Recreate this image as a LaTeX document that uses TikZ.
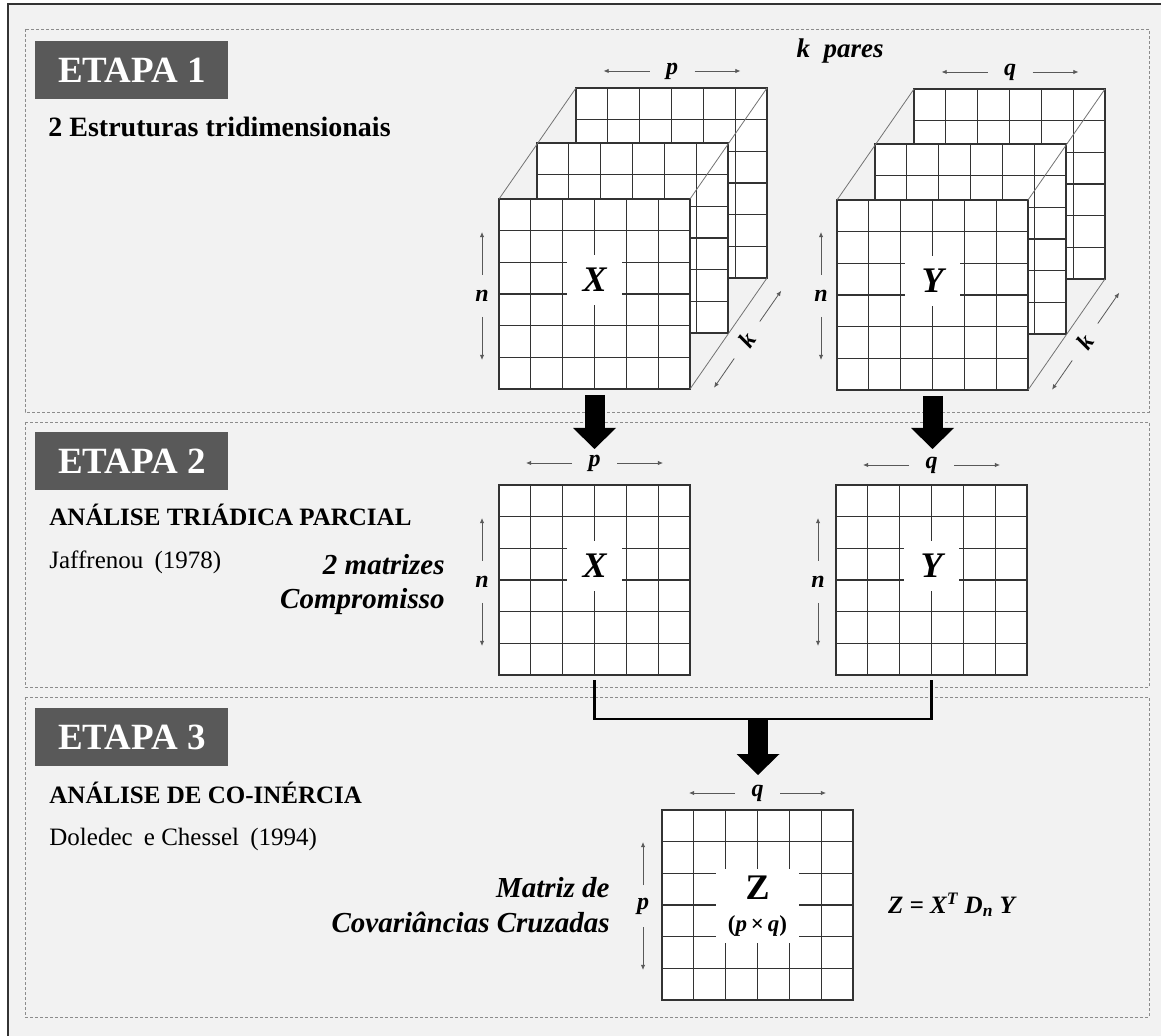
\documentclass[tikz,border=0pt]{standalone}
\usepackage{fontspec}
\setmainfont{Liberation Serif}
\usetikzlibrary{arrows.meta, calc, positioning}

\definecolor{fundo}{HTML}{F2F2F2}
\definecolor{escuro}{HTML}{595959}
\definecolor{linha}{HTML}{333333}

\begin{document}
\begin{tikzpicture}[x=0.5pt, y=-0.5pt,
    caixa/.style={draw=black!45, line width=0.4pt, dash pattern=on 1.5pt off 1pt},
    etapa/.style={fill=escuro, text=white, font=\bfseries\fontsize{18.5}{20}\selectfont,
        minimum width=96.5pt, minimum height=29pt, inner sep=0pt, anchor=north west},
    matriz/.style={draw=linha, fill=white, line width=0.65pt, minimum width=95.5pt,
        minimum height=95pt, inner sep=0pt, outer sep=0pt},
    grade/.style={draw=linha, line width=0.65pt},
    diag/.style={draw=black!55, line width=0.4pt},
    nome/.style={fill=white, inner sep=0pt, minimum width=27.5pt, minimum height=25pt,
        font=\bfseries\itshape\fontsize{18}{18}\selectfont},
    dimen/.style={font=\bfseries\itshape\fontsize{12}{14}\selectfont, inner sep=1pt},
    dim/.style={draw=black!65, line width=0.4pt, -{Latex[length=2.6pt, width=2.2pt]}},
    bloco/.style={line width=10pt, -{Triangle[width=21.5pt, length=10.5pt, line width=0pt]}},
    ligacao/.style={line width=1.2pt},
    titulo/.style={font=\bfseries\fontsize{14}{16}\selectfont, anchor=base west, inner sep=0pt},
    subtit/.style={font=\bfseries\fontsize{12.5}{14}\selectfont, anchor=base west, inner sep=0pt},
    autor/.style={font=\fontsize{12.5}{14}\selectfont, anchor=base west, inner sep=0pt},
    obs/.style={font=\bfseries\itshape\fontsize{14.5}{16}\selectfont, anchor=base east, inner sep=0pt}]

    \useasboundingbox (0,0) rectangle (1161,1036);

    % moldura e fundo
    \fill[fundo] (8,4) rectangle (1161,1036);
    \draw[line width=0.9pt, black!80] (8,1036) -- (8,4) -- (1161,4);

    % caixas tracejadas das etapas
    \draw[caixa] (25,29) rectangle (1149,412);
    \draw[caixa] (25,422) rectangle (1149,687);
    \draw[caixa] (25,697) rectangle (1149,1017);

    \node[etapa] (e1) at (35,41) {ETAPA 1};
    \node[etapa] (e2) at (35,432) {ETAPA 2};
    \node[etapa] (e3) at (35,708) {ETAPA 3};

    % textos da esquerda
    \node[titulo] (t1) at (48,137) {2 Estruturas tridimensionais};
    \node[subtit] (t2) at (49,526) {ANÁLISE TRIÁDICA PARCIAL};
    \node[autor] (a2) at (49,569) {Jaffrenou\hspace{0.45em}(1978)};
    \node[obs] (o2a) at (445,575) {2 matrizes};
    \node[obs] (o2b) at (445,609) {Compromisso};
    \node[subtit] (t3) at (49,803) {ANÁLISE DE CO-INÉRCIA};
    \node[autor] (a3) at (49,845) {Doledec\hspace{0.45em}e Chessel\hspace{0.45em}(1994)};
    \node[obs] (o3a) at (610,897) {Matriz de};
    \node[obs] (o3b) at (610,932) {Covariâncias Cruzadas};
    \node[font=\bfseries\itshape\fontsize{13.5}{15}\selectfont, anchor=base] (kp) at (840,58) {k\ \ pares};

    % matrizes (camadas de tras para a frente)
    \foreach \m/\x/\y in {xc/671.5/183, xb/632.5/238, xa/594.5/294,
                          yc/1009.5/184, yb/970.5/239, ya/932.5/295,
                          x2/594.5/580, y2/931.5/580, z/757.5/905}{
        \node[matriz] (\m) at (\x,\y) {};
        \foreach \i in {1,...,5}{
            \draw[grade] ($(\m.north west)!\i/6!(\m.north east)$) -- ($(\m.south west)!\i/6!(\m.south east)$);
            \draw[grade] ($(\m.north west)!\i/6!(\m.south west)$) -- ($(\m.north east)!\i/6!(\m.south east)$);
        }
    }

    % arestas das estruturas tridimensionais
    \draw[diag] (xa.north west) -- (xc.north west);
    \draw[diag] (xa.north east) -- (xc.north east);
    \draw[diag] (xa.south east) -- (xc.south east);
    \draw[diag] (ya.north west) -- (yc.north west);
    \draw[diag] (ya.north east) -- (yc.north east);
    \draw[diag] (ya.south east) -- (yc.south east);

    % nomes das matrizes
    \node[nome] (nx1) at (594.5,280) {X};
    \node[nome] (ny1) at (932.5,281) {Y};
    \node[nome] (nx2) at (594.5,566) {X};
    \node[nome] (ny2) at (931.5,566) {Y};
    \node[nome, minimum width=41.5pt, minimum height=37pt, align=center] (nz) at (757.5,906)
        {\upshape Z\\[-2pt]{\fontsize{11.5}{12}\selectfont\upshape(\textit{p}\,×\,\textit{q})}};
    \node[font=\bfseries\itshape\fontsize{12.5}{14}\selectfont, anchor=west] (eq) at (881,905)
        {Z = X\textsuperscript{T} D\textsubscript{n} Y};

    % dimensoes
    \node[dimen] (lpx1) at (672,71) {p};
    \node[dimen] (lqy1) at (1010,72) {q};
    \node[dimen] (lnx1) at (482,296) {n};
    \node[dimen] (lny1) at (821,296) {n};
    \node[dimen, rotate=55] (lkx1) at (747,340) {k};
    \node[dimen, rotate=55] (lky1) at (1085,342) {k};
    \node[dimen] (lpx2) at (594.5,463) {p};
    \node[dimen] (lqy2) at (931.5,465) {q};
    \node[dimen] (lnx2) at (482,582) {n};
    \node[dimen] (lny2) at (818,582) {n};
    \node[dimen] (lqz) at (757.5,793) {q};
    \node[dimen] (lpz) at (643,906) {p};

    \foreach \r in {lpx1, lqy1, lpx2, lqy2, lqz}{
        \draw[dim] (\r.center) ++(-22.5,0) -- ++(-46,0);
        \draw[dim] (\r.center) ++(22.5,0) -- ++(46,0);
    }
    \foreach \r in {lnx1, lny1, lnx2, lny2, lpz}{
        \draw[dim] (\r.center) ++(0,-21) -- ++(0,-43);
        \draw[dim] (\r.center) ++(0,21) -- ++(0,43);
    }
    \foreach \r in {lkx1, lky1}{
        \draw[dim] (\r.center) ++(-12.8,18.5) -- ++(-20.2,29.2);
        \draw[dim] (\r.center) ++(12.8,-18.5) -- ++(21.4,-30.8);
    }

    % setas grossas
    \coordinate (s1) at (594.5,449);
    \coordinate (s2) at (932.5,449);
    \coordinate (junta) at (758,719);
    \coordinate (s3) at (758,775);
    \draw[bloco] ([yshift=-3pt]xa.south) -- (s1);
    \draw[bloco] ([yshift=-3pt]ya.south) -- (s2);
    \draw[ligacao] ([yshift=-2.5pt]x2.south) |- (junta) -| ([yshift=-2.5pt]y2.south);
    \draw[bloco] (junta) -- (s3);
\end{tikzpicture}
\end{document}
